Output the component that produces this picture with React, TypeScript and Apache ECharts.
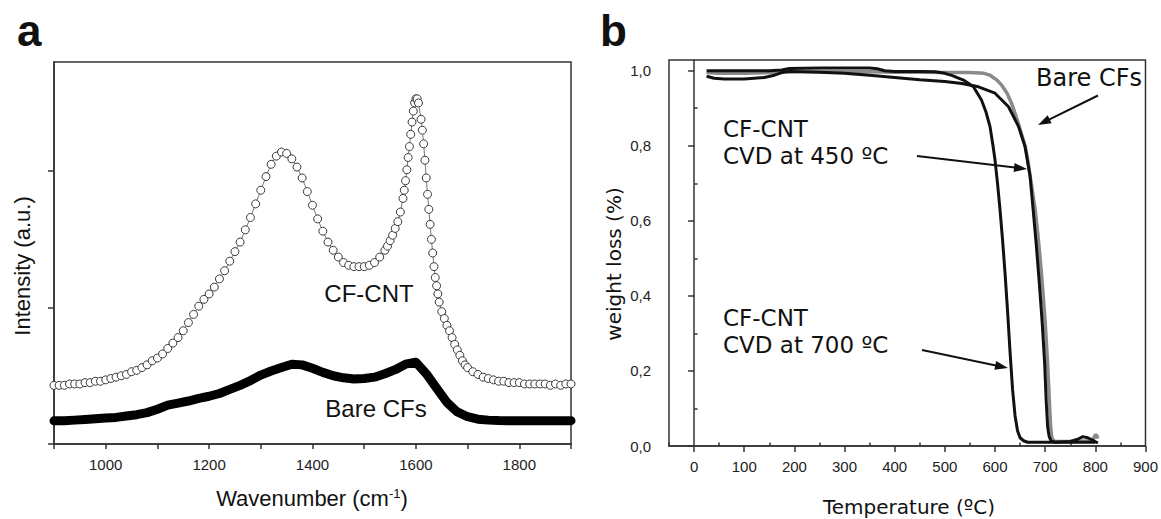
import React, { useEffect, useRef } from "react";
import * as echarts from "echarts";

// ---------- Panel a: Raman spectra ----------
const cfCntWavenumber = [
  900, 910, 920, 930, 940, 950, 960, 970, 980, 990, 1000, 1010, 1020, 1030, 1040, 1050, 1060, 1070, 1080, 1090,
  1100, 1110, 1120, 1130, 1140, 1150, 1160, 1170, 1180, 1190, 1200, 1210, 1220, 1230, 1240, 1250, 1260, 1270,
  1280, 1290, 1300, 1310, 1320, 1330, 1340, 1350, 1360, 1370, 1380, 1390, 1400, 1410, 1420, 1430, 1440, 1450,
  1460, 1470, 1480, 1490, 1500, 1510, 1520, 1530, 1540, 1545, 1550, 1555, 1560, 1565, 1570, 1575, 1577.5, 1580,
  1582.5, 1585, 1587.5, 1590, 1592.5, 1595, 1597.5, 1600, 1602.5, 1605, 1610, 1612.5, 1615, 1617.5, 1620, 1622.5,
  1625, 1627.5, 1630, 1632.5, 1635, 1637.5, 1640, 1642.5, 1645, 1650, 1655, 1660, 1665, 1670, 1675, 1680, 1685,
  1690, 1695, 1700, 1710, 1720, 1730, 1740, 1750, 1760, 1770, 1780, 1790, 1800, 1810, 1820, 1830, 1840, 1850,
  1860, 1870, 1880, 1890, 1900,
];
const cfCntIntensity = [
  0.43, 0.43, 0.43, 0.44, 0.44, 0.44, 0.45, 0.45, 0.46, 0.46, 0.47, 0.48, 0.49, 0.5, 0.51, 0.53, 0.54, 0.56, 0.58, 0.61,
  0.63, 0.66, 0.7, 0.74, 0.78, 0.83, 0.89, 0.95, 1.01, 1.06, 1.1, 1.15, 1.21, 1.27, 1.34, 1.41, 1.48, 1.57,
  1.66, 1.76, 1.86, 1.96, 2.05, 2.11, 2.14, 2.13, 2.09, 2.03, 1.95, 1.85, 1.75, 1.65, 1.56, 1.48, 1.42, 1.37,
  1.33, 1.31, 1.3, 1.3, 1.3, 1.31, 1.33, 1.37, 1.42, 1.45, 1.49, 1.53, 1.58, 1.63, 1.7, 1.8, 1.86, 1.93,
  2.01, 2.1, 2.18, 2.27, 2.36, 2.44, 2.5, 2.53, 2.53, 2.5, 2.38, 2.3, 2.2, 2.08, 1.95, 1.83,
  1.72, 1.61, 1.5, 1.4, 1.3, 1.22, 1.16, 1.1, 1.04, 0.97, 0.92, 0.87, 0.83, 0.78, 0.73, 0.69, 0.65,
  0.61, 0.58, 0.56, 0.53, 0.51, 0.49, 0.48, 0.47, 0.46, 0.46, 0.45, 0.45, 0.45, 0.44, 0.44, 0.44, 0.44, 0.44,
  0.43, 0.44, 0.43, 0.44, 0.44,
];
const bareWavenumber = [
  900, 920, 940, 960, 980, 1000, 1020, 1040, 1060, 1080, 1100, 1120, 1140, 1160, 1180, 1200, 1220, 1240, 1260,
  1280, 1300, 1320, 1340, 1360, 1380, 1400, 1420, 1440, 1460, 1480, 1500, 1520, 1540, 1560, 1580, 1600, 1620,
  1640, 1660, 1680, 1700, 1720, 1740, 1760, 1780, 1800, 1820, 1840, 1860, 1880, 1900,
];
const bareIntensity = [
  0.17, 0.17, 0.175, 0.18, 0.185, 0.19, 0.195, 0.205, 0.215, 0.23, 0.255, 0.285, 0.3, 0.315, 0.335, 0.35, 0.37, 0.4, 0.43,
  0.465, 0.505, 0.535, 0.56, 0.585, 0.58, 0.555, 0.525, 0.5, 0.485, 0.476, 0.48, 0.49, 0.515, 0.545, 0.585, 0.6, 0.515,
  0.41, 0.305, 0.235, 0.2, 0.182, 0.175, 0.172, 0.171, 0.17, 0.171, 0.17, 0.171, 0.17, 0.171,
];
const ramanXLabels = [1000, 1200, 1400, 1600, 1800];
const ramanYTicks = [0, 1, 2];

// ---------- Panel b: TGA ----------
const bareTemp = [
  25, 50, 100, 150, 200, 250, 300, 350, 400, 450, 500, 550, 578, 590, 604, 614, 624, 634, 644, 652, 660, 665, 670,
  675, 680, 685, 690, 695, 700, 704, 707, 709, 711, 713, 716, 720, 740, 760, 780, 790, 797, 800, 803, 805,
];
const bareWeight = [
  0.995, 0.993, 0.993, 0.995, 0.998, 0.998, 0.997, 0.997, 0.996, 0.996, 0.995, 0.995, 0.993, 0.988, 0.975, 0.96, 0.94,
  0.91, 0.87, 0.835, 0.8, 0.765, 0.72, 0.675, 0.63, 0.57, 0.5, 0.42, 0.33, 0.24, 0.16, 0.1, 0.05, 0.025, 0.015, 0.012,
  0.012, 0.012, 0.013, 0.015, 0.02, 0.03, 0.028, 0.02,
];
const cnt450Temp = [
  25, 40, 60, 100, 140, 160, 175, 190, 250, 300, 350, 400, 450, 500, 534, 567, 600, 627, 647, 660, 670, 676, 682,
  688, 694, 699, 702, 705, 708, 712, 720, 760, 800,
];
const cnt450Weight = [
  0.985, 0.98, 0.978, 0.978, 0.982, 0.988, 0.995, 0.998, 0.996, 0.993, 0.988, 0.982, 0.976, 0.971, 0.966, 0.957, 0.94,
  0.904, 0.851, 0.797, 0.718, 0.63, 0.54, 0.44, 0.33, 0.22, 0.12, 0.05, 0.025, 0.013, 0.01, 0.01, 0.01,
];
const cnt700Temp = [
  25, 60, 100, 150, 175, 190, 250, 300, 350, 365, 380, 400, 450, 480, 500, 515, 537, 557, 573, 582, 590, 596, 600,
  605, 610, 615, 620, 625, 630, 635, 640, 645, 650, 657, 665, 690, 720, 750, 765, 775, 785, 795, 805,
];
const cnt700Weight = [
  1.0, 1.0, 1.0, 1.0, 1.002, 1.006, 1.007, 1.007, 1.007, 1.005, 1.0, 0.998, 0.998, 0.997, 0.993, 0.987, 0.975, 0.957,
  0.922, 0.89, 0.851, 0.8, 0.762, 0.7, 0.629, 0.55, 0.46, 0.36, 0.25, 0.15, 0.08, 0.04, 0.022, 0.014, 0.01, 0.01, 0.01,
  0.012, 0.018, 0.025, 0.022, 0.015, 0.008,
];
const tgaXMajor = [0, 100, 200, 300, 400, 500, 600, 700, 800, 900];
const tgaXMinor = [-50, 50, 150, 250, 350, 450, 550, 650, 750, 850];
const tgaYMajor = [0, 0.2, 0.4, 0.6, 0.8, 1.0];
const tgaYMinor = [0.1, 0.3, 0.5, 0.7, 0.9];

const ARIAL = "'Liberation Sans', Arial, sans-serif";
const DEJAVU = "'DejaVu Sans', sans-serif";
const AXIS = "#333";

const pairs = (xs: number[], ys: number[]) => xs.map((x, i) => [x, ys[i]]);

function txt(
  text: string, x: number, y: number, size: number, family: string,
  align = "left", rotation = 0, weight = "normal", rich?: any, lineHeight?: number,
) {
  return {
    type: "text",
    x,
    y,
    rotation,
    z: 100,
    style: {
      text,
      fontSize: size,
      fontFamily: family,
      fontWeight: weight,
      fill: "#111",
      align,
      verticalAlign: "middle",
      lineHeight,
      rich,
    },
  };
}

function arrow(x1: number, y1: number, x2: number, y2: number) {
  const dx = x2 - x1;
  const dy = y2 - y1;
  const len = Math.hypot(dx, dy);
  const ux = dx / len;
  const uy = dy / len;
  const L = 13;
  const W = 4.5;
  const bx = x2 - ux * L;
  const by = y2 - uy * L;
  return [
    { type: "line", z: 100, shape: { x1, y1, x2: bx + ux * 3, y2: by + uy * 3 }, style: { stroke: "#111", lineWidth: 2 } },
    {
      type: "polygon",
      z: 100,
      shape: { points: [[x2, y2], [bx - uy * W, by + ux * W], [bx + uy * W, by - ux * W]] },
      style: { fill: "#111" },
    },
  ];
}

export default function App() {
  const ref = useRef<HTMLDivElement>(null);
  useEffect(() => {
    if (!ref.current) return;
    const chart = echarts.init(ref.current, undefined, { renderer: "svg" });
    const axisLine = { show: true, lineStyle: { color: AXIS, width: 1.5 } };
    const labelStyle = { color: "#222", fontSize: 15, fontFamily: ARIAL };
    chart.setOption({
      animation: false,
      backgroundColor: "#fff",
      grid: [
        { left: 54, top: 62, width: 517, height: 382, show: true, borderColor: AXIS, borderWidth: 1.5, backgroundColor: "transparent" },
        { left: 669, top: 60, width: 480, height: 386, show: true, borderColor: AXIS, borderWidth: 1.5, backgroundColor: "transparent" },
      ],
      xAxis: [
        {
          type: "value", gridIndex: 0, min: 900, max: 1900, interval: 100,
          axisLine, splitLine: { show: false },
          axisTick: { show: true, length: 5, lineStyle: { color: AXIS, width: 1.5 } },
          axisLabel: { ...labelStyle, margin: 13, customValues: ramanXLabels, formatter: (v: number) => String(v) },
        },
        {
          type: "value", gridIndex: 1, min: -50, max: 900,
          axisLine, splitLine: { show: false },
          axisTick: { show: true, length: 6, customValues: tgaXMajor, lineStyle: { color: AXIS, width: 1.5 } },
          axisLabel: { ...labelStyle, margin: 13, customValues: tgaXMajor, formatter: (v: number) => String(v) },
        },
        {
          type: "value", gridIndex: 1, min: -50, max: 900,
          axisLine: { show: false }, splitLine: { show: false },
          axisTick: { show: true, length: 3.5, customValues: tgaXMinor, lineStyle: { color: AXIS, width: 1.5 } },
          axisLabel: { show: false },
        },
      ],
      yAxis: [
        {
          type: "value", gridIndex: 0, min: 0, max: 2.8,
          axisLine, splitLine: { show: false },
          axisTick: { show: true, length: 6, customValues: ramanYTicks, lineStyle: { color: AXIS, width: 1.5 } },
          axisLabel: { show: false },
        },
        {
          type: "value", gridIndex: 1, min: 0, max: 1.0285,
          axisLine, splitLine: { show: false },
          axisTick: { show: true, length: 6, customValues: tgaYMajor, lineStyle: { color: AXIS, width: 1.5 } },
          axisLabel: {
            ...labelStyle, margin: 18, customValues: tgaYMajor,
            formatter: (v: number) => v.toFixed(1).replace(".", ","),
          },
        },
        {
          type: "value", gridIndex: 1, min: 0, max: 1.0285,
          axisLine: { show: false }, splitLine: { show: false },
          axisTick: { show: true, length: 3.5, customValues: tgaYMinor, lineStyle: { color: AXIS, width: 1.5 } },
          axisLabel: { show: false },
        },
      ],
      series: [
        {
          name: "Bare CFs (Raman)", type: "line", xAxisIndex: 0, yAxisIndex: 0,
          data: pairs(bareWavenumber, bareIntensity),
          showSymbol: false, lineStyle: { color: "#000", width: 9, cap: "round", join: "round" },
        },
        {
          name: "CF-CNT (Raman)", type: "line", xAxisIndex: 0, yAxisIndex: 0,
          data: pairs(cfCntWavenumber, cfCntIntensity),
          symbol: "circle", symbolSize: 8, showSymbol: true,
          itemStyle: { color: "#fff", borderColor: "#3a3a3a", borderWidth: 1 },
          lineStyle: { color: "#555", width: 0.8 },
        },
        {
          name: "Bare CFs", type: "line", xAxisIndex: 1, yAxisIndex: 1,
          data: pairs(bareTemp, bareWeight), showSymbol: false,
          lineStyle: { color: "#8a8a8a", width: 3.5 },
        },
        {
          name: "CF-CNT CVD at 450 ºC", type: "line", xAxisIndex: 1, yAxisIndex: 1,
          data: pairs(cnt450Temp, cnt450Weight), showSymbol: false,
          lineStyle: { color: "#111", width: 3 },
        },
        {
          name: "CF-CNT CVD at 700 ºC", type: "line", xAxisIndex: 1, yAxisIndex: 1,
          data: pairs(cnt700Temp, cnt700Weight), showSymbol: false,
          lineStyle: { color: "#111", width: 3 },
        },
      ],
      graphic: [
        txt("a", 17, 30, 44, ARIAL, "left", 0, "bold"),
        txt("b", 600, 30, 44, ARIAL, "left", 0, "bold"),
        txt("Wavenumber (cm{s|-1})", 312, 498, 22, ARIAL, "center", 0, "normal", {
          s: { fontSize: 13, fontFamily: ARIAL, verticalAlign: "top", padding: [0, 0, 10, 0] },
        }),
        txt("Intensity (a.u.)", 22, 266, 22, ARIAL, "center", Math.PI / 2),
        txt("CF-CNT", 369, 293, 24, ARIAL, "center"),
        txt("Bare CFs", 376, 408, 24, ARIAL, "center"),
        txt("Temperature (ºC)", 909, 507, 20, DEJAVU, "center"),
        txt("weight loss (%)", 614, 264, 20, DEJAVU, "center", Math.PI / 2),
        txt("Bare CFs", 1036, 78, 24, DEJAVU, "left"),
        txt("CF-CNT\nCVD at 450 ºC", 723, 142.5, 23, DEJAVU, "left", 0, "normal", undefined, 27),
        txt("CF-CNT\nCVD at 700 ºC", 723, 331, 23, DEJAVU, "left", 0, "normal", undefined, 27),
        ...arrow(1098, 95.5, 1038, 125),
        ...arrow(917, 156, 1027, 169),
        ...arrow(922, 350, 1008, 368),
      ],
    });
    return () => chart.dispose();
  }, []);
  return <div ref={ref} style={{ position: "absolute", left: 0, top: 0, width: 1161, height: 519 }} />;
}
